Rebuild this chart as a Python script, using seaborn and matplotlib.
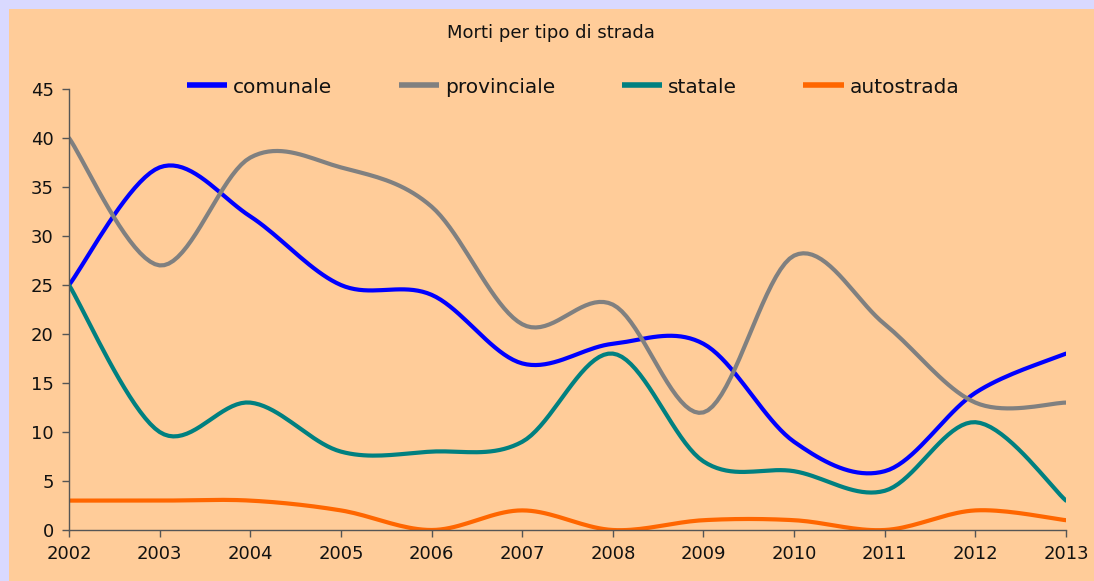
import seaborn as sns
import matplotlib.pyplot as plt
import numpy as np
import pandas as pd

# dati (lettura dal grafico)
anni = [2002, 2003, 2004, 2005, 2006, 2007, 2008, 2009, 2010, 2011, 2012, 2013]
comunale = [25, 37, 32, 25, 24, 17, 19, 19, 9, 6, 14, 18]
provinciale = [40, 27, 38, 37, 33, 21, 23, 12, 28, 21, 13, 13]
statale = [25, 10, 13, 8, 8, 9, 18, 7, 6, 4, 11, 3]
autostrada = [3, 3, 3, 2, 0, 2, 0, 1, 1, 0, 2, 1]

serie = ['comunale', 'provinciale', 'statale', 'autostrada']
colori = ['#0000FF', '#808080', '#008080', '#FF6600']


# linea smussata tipo Excel (bezier con punti di controllo catmull-rom)
def smussa(x, y, n=20):
    x = np.asarray(x, float)
    y = np.asarray(y, float)
    xs, ys = [], []
    for i in range(len(x) - 1):
        x0, y0 = (x[i - 1], y[i - 1]) if i > 0 else (x[i], y[i])
        x3, y3 = (x[i + 2], y[i + 2]) if i + 2 < len(x) else (x[i + 1], y[i + 1])
        p1 = np.array([x[i], y[i]])
        p2 = np.array([x[i + 1], y[i + 1]])
        c1 = p1 + (p2 - np.array([x0, y0])) / 6
        c2 = p2 - (np.array([x3, y3]) - p1) / 6
        t = np.linspace(0, 1, n, endpoint=(i == len(x) - 2))[:, None]
        pts = ((1 - t) ** 3) * p1 + 3 * ((1 - t) ** 2) * t * c1 + 3 * (1 - t) * t ** 2 * c2 + t ** 3 * p2
        xs.extend(pts[:, 0])
        ys.extend(pts[:, 1])
    return xs, ys


righe = []
for nome, valori in zip(serie, [comunale, provinciale, statale, autostrada]):
    xs, ys = smussa(anni, valori)
    righe.append(pd.DataFrame({'Anno': xs, 'Morti': ys, 'Tipo': nome}))
df = pd.concat(righe, ignore_index=True)

sns.set_style("white")
plt.rcParams['font.family'] = ['DejaVu Sans']

fig = plt.figure(figsize=(10.94, 5.81), dpi=100)
fig.patch.set_facecolor('#D9D9FF')
# riquadro arancione
fig.patches.append(plt.Rectangle((9 / 1094, 0), 1, 1 - 9 / 581, transform=fig.transFigure,
                                 facecolor='#FFCC99', edgecolor='none', zorder=-10))

ax = fig.add_axes([69 / 1094, (581 - 530) / 581, (1066 - 69) / 1094, (530 - 89) / 581])
ax.set_facecolor('none')

sns.lineplot(data=df, x='Anno', y='Morti', hue='Tipo', palette=colori, hue_order=serie,
             sort=False, estimator=None, linewidth=3, ax=ax, legend=False)

ax.set_xlim(2002, 2013)
ax.set_ylim(0, 45)
ax.set_xticks(anni)
ax.set_yticks(range(0, 46, 5))
ax.set_xlabel('')
ax.set_ylabel('')
ax.tick_params(axis='both', direction='out', length=5, width=1, color='#555555',
               labelsize=13, labelcolor='#111111', bottom=True, left=True)
ax.tick_params(axis='x', pad=6)
ax.tick_params(axis='y', pad=6)
sns.despine(ax=ax)
for s in ['left', 'bottom']:
    ax.spines[s].set_color('#555555')
    ax.spines[s].set_linewidth(1)

fig.text(551 / 1094, 1 - 33 / 581, 'Morti per tipo di strada', ha='center', va='center',
         fontsize=13, color='#111111')

maniglie = [plt.Line2D([], [], color=c, lw=4, solid_capstyle='butt') for c in colori]
fig.legend(maniglie, serie, loc='center', bbox_to_anchor=(573 / 1094, 1 - 87 / 581),
           ncol=4, frameon=False, fontsize=14.5, handlelength=2.0, handletextpad=0.3,
           columnspacing=3.3, labelcolor='#111111')

plt.savefig('out.png', dpi=100, facecolor=fig.get_facecolor())
